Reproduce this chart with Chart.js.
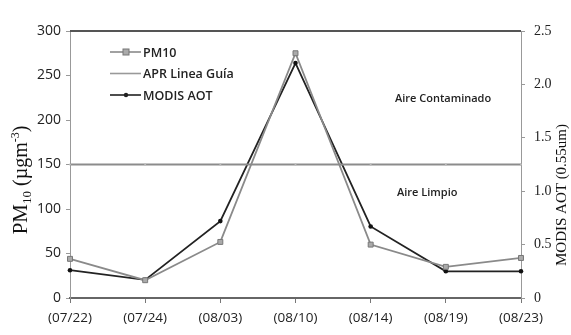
<!DOCTYPE html>
<html>
<head>
<meta charset="utf-8">
<script src="https://cdn.jsdelivr.net/npm/chart.js@4.4.1/dist/chart.umd.min.js"></script>
<style>
  html, body { margin: 0; padding: 0; background: #fff; }
  #wrap { position: relative; width: 571px; height: 335px; }
</style>
</head>
<body>
<div id="wrap"><canvas id="myChart" width="571" height="335"></canvas></div>
<script>
// fechas de muestreo
const fechas = ['(07/22)', '(07/24)', '(08/03)', '(08/10)', '(08/14)', '(08/19)', '(08/23)'];
// PM10 en ug/m3
const pm10 = [44, 20, 63, 275, 60, 35, 45];
// linea guia APR
const aprGuia = [150, 150, 150, 150, 150, 150, 150];
// espesor optico MODIS (eje derecho)
const modisAot = [0.26, 0.17, 0.72, 2.2, 0.67, 0.25, 0.25];

const ticksPM = [0, 50, 100, 150, 200, 250, 300];
const ticksAOT = [0, 0.5, 1, 1.5, 2, 2.5];

const sans = '"Open Sans", "Liberation Sans", sans-serif';
const serif = '"Liberation Serif", "DejaVu Serif", serif';

// leyenda, textos de zonas y titulos de ejes dibujados a mano
const extras = {
    id: 'extras',
    afterDraw(chart) {
        const c = chart.ctx;
        const a = chart.chartArea;
        const y = chart.scales.y;

        // borde superior
        c.save();
        c.strokeStyle = '#555';
        c.lineWidth = 2;
        c.beginPath();
        c.moveTo(a.left, a.top);
        c.lineTo(a.right, a.top);
        c.stroke();

        // leyenda
        const items = [
            { t: 'PM10', col: '#8a8a8a', mk: 'sq' },
            { t: 'APR Linea Guía', col: '#999', mk: 'dot' },
            { t: 'MODIS AOT', col: '#222', mk: 'dia' }
        ];
        c.font = '600 12.5px ' + sans;
        c.textBaseline = 'middle';
        items.forEach((it, i) => {
            const ly = 52 + i * 21.5;
            c.strokeStyle = it.col;
            c.lineWidth = 1.6;
            c.beginPath();
            c.moveTo(110, ly);
            c.lineTo(141, ly);
            c.stroke();
            c.fillStyle = it.col;
            if (it.mk === 'sq') {
                c.fillStyle = '#aaa';
                c.strokeStyle = '#777';
                c.lineWidth = 1;
                c.fillRect(123, ly - 3, 6, 6);
                c.strokeRect(123, ly - 3, 6, 6);
            } else if (it.mk === 'dia') {
                c.beginPath();
                c.arc(126, ly, 2.2, 0, Math.PI * 2);
                c.fill();
            }
            c.fillStyle = '#222';
            c.fillText(it.t, 143, ly + 1);
        });

        // zonas
        c.font = '600 11px ' + sans;
        c.fillStyle = '#222';
        c.textAlign = 'left';
        c.fillText('Aire Contaminado', 395, y.getPixelForValue(225) + 1);
        c.fillText('Aire Limpio', 397, y.getPixelForValue(118));

        // titulo eje izquierdo: PM10 (µgm-3)
        c.save();
        c.translate(25, 180);
        c.rotate(-Math.PI / 2);
        c.fillStyle = '#111';
        c.textAlign = 'left';
        c.textBaseline = 'alphabetic';
        const partes = [
            { s: 'PM', f: '21px ', dy: 0 },
            { s: '10', f: '13px ', dy: 4 },
            { s: ' (µgm', f: '20px ', dy: 0 },
            { s: '-3', f: '12px ', dy: -8 },
            { s: ')', f: '20px ', dy: 0 }
        ];
        let ancho = 0;
        partes.forEach(p => { c.font = p.f + serif; ancho += c.measureText(p.s).width; });
        let x = -ancho / 2;
        partes.forEach(p => {
            c.font = p.f + serif;
            c.fillText(p.s, x, 2 + p.dy);
            x += c.measureText(p.s).width;
        });
        c.restore();

        // titulo eje derecho
        c.save();
        c.translate(562, 195);
        c.rotate(-Math.PI / 2);
        c.fillStyle = '#111';
        c.font = '15px ' + serif;
        c.textAlign = 'center';
        c.textBaseline = 'middle';
        c.fillText('MODIS AOT (0.55um)', 0, 0);
        c.restore();

        c.restore();
    }
};

const ctx = document.getElementById('myChart').getContext('2d');

new Chart(ctx, {
    type: 'line',
    data: {
        labels: fechas,
        datasets: [{
            label: 'PM10',
            data: pm10,
            yAxisID: 'y',
            borderColor: '#8a8a8a',
            borderWidth: 1.8,
            pointStyle: 'rect',
            pointRadius: 3.5,
            pointBackgroundColor: '#aaa',
            pointBorderColor: '#777',
            pointBorderWidth: 1,
            tension: 0
        }, {
            label: 'APR Linea Guía',
            data: aprGuia,
            yAxisID: 'y',
            borderColor: '#8c8c8c',
            borderWidth: 1.8,
            pointRadius: 1,
            pointBackgroundColor: '#bbb',
            pointBorderWidth: 0,
            tension: 0
        }, {
            label: 'MODIS AOT',
            data: modisAot,
            yAxisID: 'y1',
            borderColor: '#222',
            borderWidth: 1.8,
            pointStyle: 'circle',
            pointRadius: 2.3,
            pointBackgroundColor: '#111',
            pointBorderWidth: 0,
            tension: 0
        }]
    },
    options: {
        responsive: false,
        animation: false,
        layout: { padding: { top: 31, right: 0, left: 0, bottom: 0 } },
        scales: {
            x: {
                offset: false,
                grid: {
                    display: true,
                    drawOnChartArea: false,
                    drawTicks: true,
                    tickLength: 5,
                    color: '#777'
                },
                border: { display: true, color: '#666', width: 2 },
                ticks: {
                    color: '#222',
                    font: { family: sans, size: 13.5 },
                    padding: 7,
                    maxRotation: 0
                },
                afterFit(s) { s.height = 37; }
            },
            y: {
                position: 'left',
                min: 0,
                max: 300,
                afterBuildTicks(s) { s.ticks = ticksPM.map(v => ({ value: v })); },
                grid: { drawOnChartArea: false, tickLength: 4, color: '#999' },
                border: { display: true, color: '#999', width: 1 },
                ticks: {
                    color: '#222',
                    font: { family: sans, size: 14 },
                    padding: 5
                },
                afterFit(s) { s.width = 70; }
            },
            y1: {
                position: 'right',
                min: 0,
                max: 2.5,
                afterBuildTicks(s) { s.ticks = ticksAOT.map(v => ({ value: v })); },
                grid: { drawOnChartArea: false, tickLength: 4, color: '#999' },
                border: { display: true, color: '#999', width: 1 },
                ticks: {
                    color: '#222',
                    font: { family: serif, size: 14 },
                    padding: 9
                },
                afterFit(s) { s.width = 50; }
            }
        },
        plugins: {
            legend: { display: false },
            tooltip: { enabled: false }
        }
    },
    plugins: [extras]
});
</script>
</body>
</html>
